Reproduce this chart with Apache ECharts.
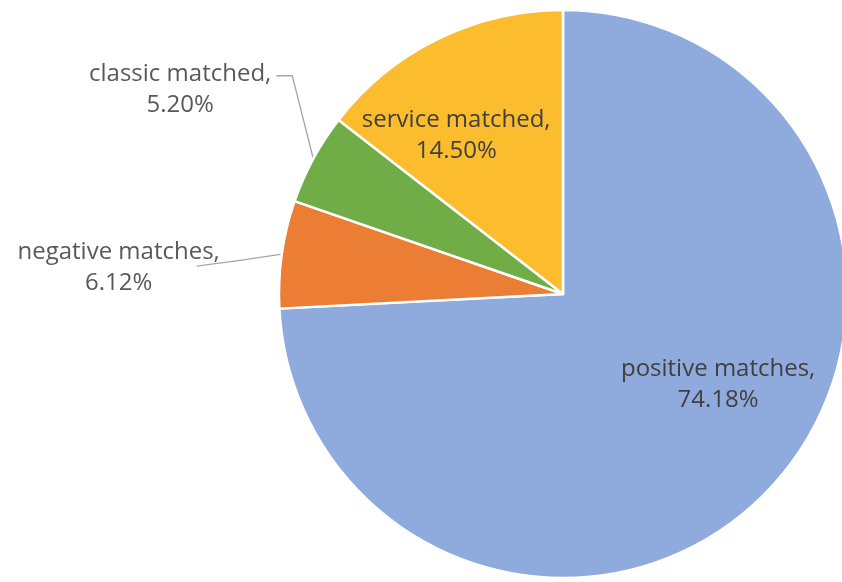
<!DOCTYPE html>
<html><head><meta charset="utf-8">
<script src="https://cdn.jsdelivr.net/npm/echarts@6/dist/echarts.min.js"></script>
<style>html,body{margin:0;padding:0;background:#fff}#c{width:842px;height:582px}</style>
</head><body><div id="c"></div>
<script>
const categories = ['positive matches', 'negative matches', 'classic matched', 'service matched'];
const percents = [74.18, 6.12, 5.20, 14.50];
const labelInside = [true, false, false, true];
const colors = ['#8FAADC', '#EB7D34', '#70AD47', '#FBBC2D'];

const FONT = 'Open Sans';
const FS = 24;
const LH = 31;
// label offsets (px) relative to ECharts' own label anchor / leader start
const insideShift = { 0: [50, -9], 3: [-43, -28] };

const chart = echarts.init(document.getElementById('c'));
const data = categories.map((name, i) => ({
  name: name,
  value: percents[i],
  itemStyle: { color: colors[i] },
  label: { position: labelInside[i] ? 'inside' : 'outside' },
  labelLine: { show: !labelInside[i] }
}));

chart.setOption({
  animation: false,
  series: [{
    type: 'pie',
    center: [563, 294],
    radius: 284,
    startAngle: 90,
    clockwise: true,
    avoidLabelOverlap: false,
    itemStyle: { borderColor: '#fff', borderWidth: 2.5 },
    label: {
      formatter: p => {
        const k = labelInside[p.dataIndex] ? 'i' : 'o';
        return `{${k}|${p.name},}\n{${k}|${p.value.toFixed(2)}%}`;
      },
      rich: {
        i: { fontFamily: FONT, fontSize: FS, lineHeight: LH, color: '#404040', align: 'center' },
        o: { fontFamily: FONT, fontSize: FS, lineHeight: LH, color: '#595959', align: 'center' }
      }
    },
    labelLine: { length: 10, length2: 60, lineStyle: { color: '#A6A6A6', width: 1.3 } },
    labelLayout: function (p) {
      const i = p.dataIndex;
      if (insideShift[i]) return { dx: insideShift[i][0], dy: insideShift[i][1] };
      const pts = p.labelLinePoints;
      if (!pts) return {};
      const p0 = pts[0];
      if (i === 2) {
        return {
          x: p0[0] - 42, y: p0[1] - 69, align: 'right', verticalAlign: 'middle',
          labelLinePoints: [[p0[0], p0[1]], [p0[0] - 21, p0[1] - 83], [p0[0] - 37, p0[1] - 83]]
        };
      }
      if (i === 1) {
        return {
          x: p0[0] - 62, y: p0[1] + 13, align: 'right', verticalAlign: 'middle',
          labelLinePoints: [[p0[0], p0[1]], [p0[0] - 40, p0[1] + 6], [p0[0] - 85, p0[1] + 12]]
        };
      }
      return {};
    },
    data: data
  }]
});
</script></body></html>
